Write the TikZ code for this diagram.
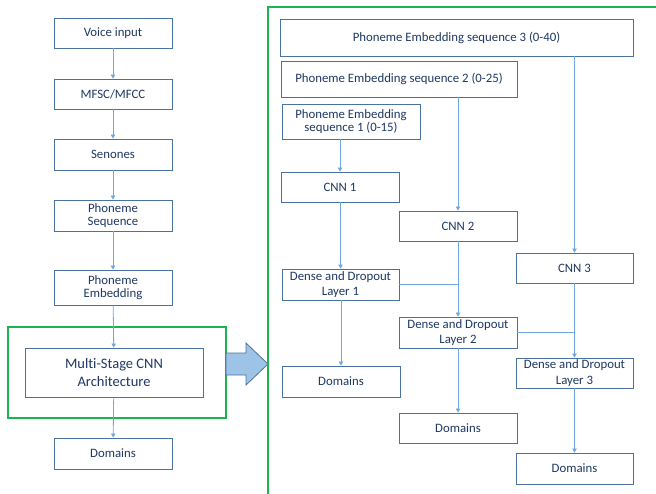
\documentclass[tikz,border=0pt]{standalone}
\usepackage{fontspec}
\setmainfont{Carlito}[Ligatures=NoCommon]
\usetikzlibrary{arrows.meta}
\definecolor{boxline}{HTML}{4A72A0}
\definecolor{txt}{HTML}{1F3864}
\definecolor{conn}{HTML}{6FA8DC}
\definecolor{grn}{HTML}{1DB350}
\definecolor{bigfill}{HTML}{9DC3E6}
\begin{document}
\begin{tikzpicture}[x=1pt,y=-1pt,
  blk/.style={draw=boxline,line width=0.9pt,fill=white,text=txt,inner sep=0pt,align=center,
    font=\fontsize{12.8}{14.5}\selectfont,minimum width=118pt,minimum height=30pt},
  conn/.style={draw=conn,line width=0.8pt,-{Triangle[width=4.5pt,length=4pt]}},
  link/.style={draw=conn,line width=0.8pt}]
\useasboundingbox (0,0) rectangle (656,493);
% left column
\node[blk] (voice) at (113,33) {Voice input};
\node[blk] (mfsc) at (113,94) {MFSC/MFCC};
\node[blk,minimum height=31pt] (sen) at (113,154.5) {Senones};
\node[blk,minimum height=31pt,font=\fontsize{12.8}{13.5}\selectfont] (pseq) at (113,215.5) {Phoneme\\Sequence};
\node[blk,minimum height=35pt,font=\fontsize{12.8}{13.5}\selectfont] (pemb) at (113,287.5) {Phoneme\\Embedding};
\node[draw=grn,line width=1.6pt,inner sep=0pt,minimum width=218pt,minimum height=91pt] (gbox) at (117,372.5) {};
\node[blk,minimum width=178pt,minimum height=49pt,font=\fontsize{14.5}{17.5}\selectfont] (multi) at (114,372.5) {Multi-Stage CNN\\Architecture};
\node[blk,minimum height=31pt] (doml) at (113,453.5) {Domains};
\draw[conn] (voice) -- (mfsc);
\draw[conn] (mfsc) -- (sen);
\draw[conn] (sen) -- (pseq);
\draw[conn] (pseq) -- (pemb);
\draw[conn] (pemb) -- (multi);
\draw[conn] (multi) -- (doml);
% big arrow
\draw[draw=boxline,line width=0.8pt,fill=bigfill] (226,353) -- (246,353) -- (246,343) -- (268,364) -- (246,385) -- (246,375) -- (226,375) -- cycle;
% green frame
\draw[grn,line width=1.6pt] (268,500) -- (268,7) -- (660,7);
% right side
\node[blk,minimum width=353pt,minimum height=37pt] (seq3) at (456.5,37.5) {Phoneme Embedding sequence 3 (0-40)};
\node[blk,minimum width=236pt,minimum height=36pt] (seq2) at (399,79) {Phoneme Embedding sequence 2 (0-25)};
\node[blk,minimum width=138pt,minimum height=35pt,font=\fontsize{12.8}{13.5}\selectfont] (seq1) at (351,121.5) {Phoneme Embedding\\sequence 1 (0-15)};
\node[blk] (cnn1) at (340,187) {CNN 1};
\node[blk] (cnn2) at (458,226) {CNN 2};
\node[blk,minimum width=117pt] (cnn3) at (574.5,268) {CNN 3};
\node[blk,minimum width=117pt,minimum height=31pt,font=\fontsize{12.8}{15.5}\selectfont] (d1) at (340.5,284.5) {Dense and Dropout\\Layer 1};
\node[blk,minimum height=31pt,font=\fontsize{12.8}{15.5}\selectfont] (d2) at (458,332.5) {Dense and Dropout\\Layer 2};
\node[blk,minimum width=117pt,font=\fontsize{12.8}{15.5}\selectfont] (d3) at (574.5,373) {Dense and Dropout\\Layer 3};
\node[blk,minimum height=31pt] (dom1) at (341,381.5) {Domains};
\node[blk] (dom2) at (458,428) {Domains};
\node[blk,minimum width=117pt,minimum height=31pt] (dom3) at (574.5,468.5) {Domains};
\draw[conn] (seq1.south -| cnn1.north) -- (cnn1.north);
\draw[conn] (seq2.south -| cnn2.north) -- (cnn2.north);
\draw[conn] (seq3.south -| cnn3.north) -- (cnn3.north);
\draw[conn] (cnn1.south -| d1.north) -- (d1.north);
\draw[conn] (cnn2) -- (d2);
\draw[conn] (cnn3) -- (d3);
\draw[link] (d1.east) -- (d1.east -| cnn2.south);
\draw[link] (d2.east) -- (d2.east -| cnn3.south);
\draw[conn] (d1.south -| dom1.north) -- (dom1.north);
\draw[conn] (d2) -- (dom2);
\draw[conn] (d3) -- (dom3);
\end{tikzpicture}
\end{document}
